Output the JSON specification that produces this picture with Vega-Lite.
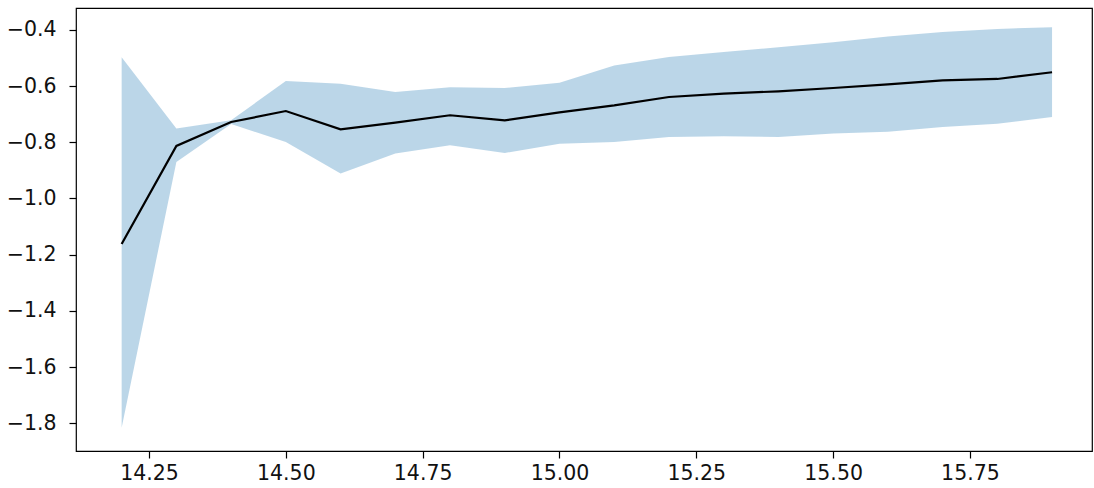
{
  "$schema": "https://vega.github.io/schema/vega-lite/v6.json",
  "width": 1016,
  "height": 443,
  "autosize": {"type": "none"},
  "padding": {"left": 76, "top": 8, "right": 2, "bottom": 37},
  "background": "white",
  "config": {
    "view": {"stroke": "#000000", "strokeWidth": 1.2},
    "axis": {
      "grid": false,
      "domain": false,
      "tickColor": "#000000",
      "tickSize": 7,
      "tickWidth": 1.2,
      "labelFont": "DejaVu Sans",
      "labelFontSize": 20.5,
      "labelColor": "#111111",
      "title": null
    }
  },
  "data": {
    "values": [
      {"x": 14.2, "m": -1.162, "lo": -1.815, "hi": -0.498},
      {"x": 14.3, "m": -0.813, "lo": -0.870, "hi": -0.751},
      {"x": 14.4, "m": -0.728, "lo": -0.735, "hi": -0.722},
      {"x": 14.5, "m": -0.689, "lo": -0.799, "hi": -0.582},
      {"x": 14.6, "m": -0.754, "lo": -0.911, "hi": -0.592},
      {"x": 14.7, "m": -0.730, "lo": -0.840, "hi": -0.621},
      {"x": 14.8, "m": -0.704, "lo": -0.811, "hi": -0.604},
      {"x": 14.9, "m": -0.722, "lo": -0.838, "hi": -0.607},
      {"x": 15.0, "m": -0.694, "lo": -0.805, "hi": -0.588},
      {"x": 15.1, "m": -0.669, "lo": -0.799, "hi": -0.527},
      {"x": 15.2, "m": -0.639, "lo": -0.781, "hi": -0.497},
      {"x": 15.3, "m": -0.627, "lo": -0.779, "hi": -0.479},
      {"x": 15.4, "m": -0.619, "lo": -0.781, "hi": -0.462},
      {"x": 15.5, "m": -0.607, "lo": -0.769, "hi": -0.444},
      {"x": 15.6, "m": -0.594, "lo": -0.763, "hi": -0.424},
      {"x": 15.7, "m": -0.580, "lo": -0.746, "hi": -0.408},
      {"x": 15.8, "m": -0.575, "lo": -0.734, "hi": -0.397},
      {"x": 15.9, "m": -0.551, "lo": -0.710, "hi": -0.391}
    ]
  },
  "layer": [
    {
      "mark": {"type": "area", "color": "#1f77b4", "opacity": 0.3},
      "encoding": {
        "x": {
          "field": "x", "type": "quantitative",
          "scale": {"domain": [14.1166, 15.973], "nice": false, "zero": false},
          "axis": {"values": [14.25, 14.5, 14.75, 15.0, 15.25, 15.5, 15.75], "format": ".2f", "labelPadding": 5}
        },
        "y": {
          "field": "lo", "type": "quantitative",
          "scale": {"domain": [-1.898, -0.3226], "nice": false, "zero": false},
          "axis": {"values": [-1.8, -1.6, -1.4, -1.2, -1.0, -0.8, -0.6, -0.4], "format": ".1f", "labelPadding": 13}
        },
        "y2": {"field": "hi"}
      }
    },
    {
      "mark": {"type": "line", "color": "#000000", "strokeWidth": 2.2},
      "encoding": {
        "x": {"field": "x", "type": "quantitative"},
        "y": {"field": "m", "type": "quantitative"}
      }
    }
  ]
}
